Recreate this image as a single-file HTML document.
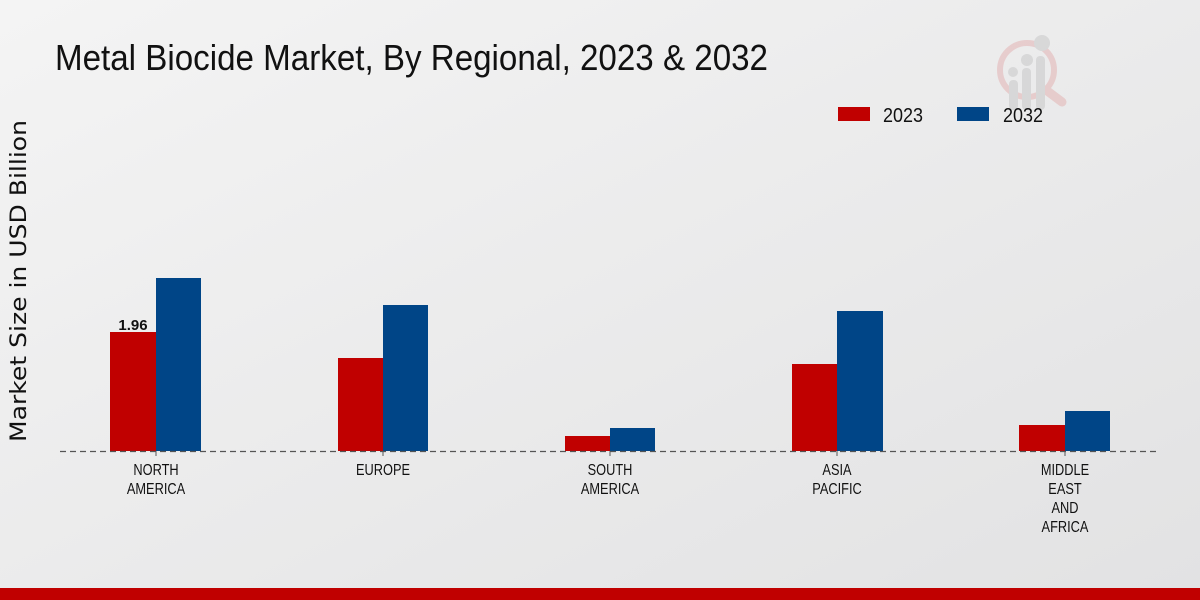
<!DOCTYPE html>
<html><head><meta charset="utf-8"><style>html,body{margin:0;padding:0;width:1200px;height:600px;overflow:hidden}</style></head>
<body>
<svg width="1200" height="600" viewBox="0 0 1200 600" xmlns="http://www.w3.org/2000/svg">
<defs>
<linearGradient id="bg" x1="0" y1="0" x2="1" y2="1">
<stop offset="0" stop-color="#f4f4f4"/><stop offset="1" stop-color="#e2e2e3"/>
</linearGradient>
</defs>
<rect width="1200" height="600" fill="url(#bg)"/>
<rect x="0" y="588" width="1200" height="12" fill="#c00000"/>
<g opacity="0.4">
<circle cx="1027" cy="70" r="27" fill="none" stroke="#e0a0a0" stroke-width="6"/>
<line x1="1046" y1="90" x2="1062" y2="102" stroke="#e0a0a0" stroke-width="9" stroke-linecap="round"/>
<rect x="1009" y="80" width="9" height="30" rx="4" fill="#bbb"/>
<rect x="1022" y="68" width="9" height="42" rx="4" fill="#bbb"/>
<rect x="1036" y="56" width="9" height="54" rx="4" fill="#bbb"/>
<circle cx="1013" cy="72" r="5" fill="#bbb"/><circle cx="1027" cy="60" r="6" fill="#bbb"/><circle cx="1042" cy="43" r="8" fill="#bbb"/>
</g>
<text x="55" y="70" font-family="Liberation Sans, sans-serif" font-size="36" textLength="713" lengthAdjust="spacingAndGlyphs" fill="#111">Metal Biocide Market, By Regional, 2023 &amp; 2032</text>
<rect x="838" y="107" width="32" height="14" fill="#c00000"/>
<text x="883" y="122" font-family="Liberation Sans, sans-serif" font-size="20" textLength="40" lengthAdjust="spacingAndGlyphs" fill="#111">2023</text>
<rect x="957" y="107" width="32" height="14" fill="#004587"/>
<text x="1003" y="122" font-family="Liberation Sans, sans-serif" font-size="20" textLength="40" lengthAdjust="spacingAndGlyphs" fill="#111">2032</text>
<text transform="translate(26,281) rotate(-90)" text-anchor="middle" font-family="DejaVu Sans, sans-serif" font-size="22" textLength="322" lengthAdjust="spacingAndGlyphs" fill="#111">Market Size in USD Billion</text>
<g>
<rect x="110" y="332" width="46" height="119" fill="#c00000"/>
<rect x="156" y="278" width="45" height="173" fill="#004587"/>
<rect x="338" y="358" width="45" height="93" fill="#c00000"/>
<rect x="383" y="305" width="45" height="146" fill="#004587"/>
<rect x="565" y="436" width="45" height="15" fill="#c00000"/>
<rect x="610" y="428" width="45" height="23" fill="#004587"/>
<rect x="792" y="364" width="45" height="87" fill="#c00000"/>
<rect x="837" y="311" width="46" height="140" fill="#004587"/>
<rect x="1019" y="425" width="46" height="26" fill="#c00000"/>
<rect x="1065" y="411" width="45" height="40" fill="#004587"/>
</g>
<line x1="60" y1="451.5" x2="1160" y2="451.5" stroke="#555" stroke-width="1.2" stroke-dasharray="6,4"/>
<g stroke="#555" stroke-width="1">
<line x1="156" y1="451" x2="156" y2="456"/><line x1="383" y1="451" x2="383" y2="456"/><line x1="610" y1="451" x2="610" y2="456"/><line x1="837" y1="451" x2="837" y2="456"/><line x1="1065" y1="451" x2="1065" y2="456"/>
</g>
<text x="133" y="330" text-anchor="middle" font-family="Liberation Sans, sans-serif" font-weight="bold" font-size="15" fill="#111">1.96</text>
<g font-family="Liberation Sans, sans-serif" font-size="16" fill="#111" text-anchor="middle">
<text transform="translate(156,475) scale(0.8,1)">NORTH</text>
<text transform="translate(156,494) scale(0.8,1)">AMERICA</text>
<text transform="translate(383,475) scale(0.8,1)">EUROPE</text>
<text transform="translate(610,475) scale(0.8,1)">SOUTH</text>
<text transform="translate(610,494) scale(0.8,1)">AMERICA</text>
<text transform="translate(837,475) scale(0.8,1)">ASIA</text>
<text transform="translate(837,494) scale(0.8,1)">PACIFIC</text>
<text transform="translate(1065,475) scale(0.8,1)">MIDDLE</text>
<text transform="translate(1065,494) scale(0.8,1)">EAST</text>
<text transform="translate(1065,513) scale(0.8,1)">AND</text>
<text transform="translate(1065,532) scale(0.8,1)">AFRICA</text>
</g>
</svg>
</body></html>
